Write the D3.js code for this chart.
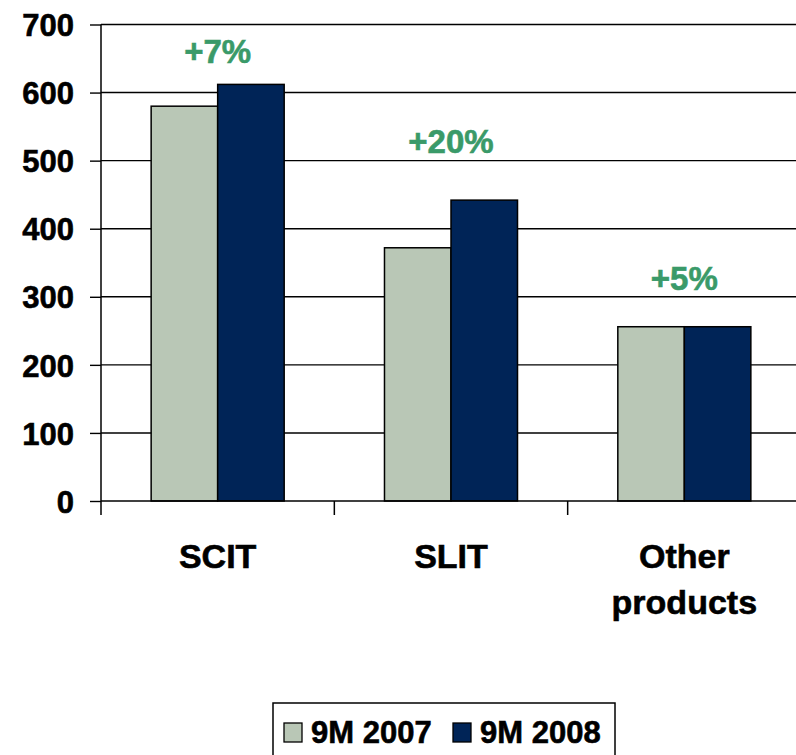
<!DOCTYPE html>
<html>
<head>
<meta charset="utf-8">
<script src="https://cdn.jsdelivr.net/npm/d3@7"></script>
<style>
  html, body { margin: 0; padding: 0; background: #fff; }
  svg { display: block; }
  text { font-family: "Liberation Sans", Arial, Helvetica, sans-serif; font-weight: bold; }
</style>
</head>
<body>
<svg id="chart" width="796" height="755"></svg>
<script>
// ---- data ----
const categories = ["SCIT", "SLIT", "Other products"];
const seriesNames = ["9M 2007", "9M 2008"];
const values2007 = [580, 372, 256];
const values2008 = [612, 442, 256];
const growthLabels = ["+7%", "+20%", "+5%"];
const growthLabelAt = [643, 511, 310]; // label baseline, in value units
const yTicks = [0, 100, 200, 300, 400, 500, 600, 700];
const colors = ["#B9C7B6", "#002457"];

const svg = d3.select("#chart");

const x0 = d3.scaleBand().domain(categories).range([101, 801]).paddingInner(0).paddingOuter(0);
const x1 = d3.scaleBand().domain(seriesNames).range([0, x0.bandwidth()]).paddingInner(0).paddingOuter(0.754);
const y = d3.scaleLinear().domain([0, 700]).range([501, 24.5]);

// gridlines
svg.append("g").selectAll("line").data(yTicks.filter(d => d > 0)).join("line")
  .attr("x1", 101).attr("x2", 796)
  .attr("y1", d => y(d)).attr("y2", d => y(d))
  .attr("stroke", "#000").attr("stroke-width", 1.4);

// y axis
const yAxis = d3.axisLeft(y).tickValues(yTicks).tickSize(11).tickPadding(16).tickFormat(d3.format("d"));
const gy = svg.append("g").attr("transform", "translate(101,0)").call(yAxis);
gy.select(".domain").attr("stroke", "#000").attr("stroke-width", 1.5).attr("d", `M0,${y(700)}V${y(0)}`);
gy.selectAll(".tick line").attr("stroke", "#000").attr("stroke-width", 1.4);
gy.selectAll(".tick text").attr("fill", "#000").attr("stroke", "#000").attr("stroke-width", 0.6)
  .style("font-size", "31px").attr("dy", "0.36em")
  .style("font-family", "'Liberation Sans', Arial, sans-serif").style("font-weight", "bold");

// bars
const rows = categories.map((c, i) => ({ cat: c, vals: [values2007[i], values2008[i]] }));
const groups = svg.append("g").selectAll("g").data(rows).join("g")
  .attr("transform", d => `translate(${x0(d.cat)},0)`);
groups.selectAll("rect").data(d => d.vals.map((v, j) => ({ s: seriesNames[j], v, j }))).join("rect")
  .attr("x", d => x1(d.s)).attr("width", x1.bandwidth())
  .attr("y", d => y(d.v)).attr("height", d => y(0) - y(d.v))
  .attr("fill", d => colors[d.j]).attr("stroke", "#000").attr("stroke-width", 1.5);

// x axis line + ticks
svg.append("line").attr("x1", 101).attr("x2", 796).attr("y1", y(0)).attr("y2", y(0))
  .attr("stroke", "#000").attr("stroke-width", 1.5);
const boundaries = categories.map(c => x0(c));
svg.append("g").selectAll("line").data(boundaries).join("line")
  .attr("x1", d => d).attr("x2", d => d).attr("y1", y(0)).attr("y2", y(0) + 14)
  .attr("stroke", "#000").attr("stroke-width", 1.5);

// category labels
svg.append("g").selectAll("text").data(categories).join("text")
  .attr("x", d => x0(d) + x0.bandwidth() / 2)
  .attr("y", 568)
  .attr("text-anchor", "middle")
  .style("font-size", "34px").attr("fill", "#000").attr("stroke", "#000").attr("stroke-width", 0.6)
  .each(function(d) {
    const words = d.split(" ");
    const t = d3.select(this);
    words.forEach((w, i) => {
      t.append("tspan").attr("x", x0(d) + x0.bandwidth() / 2).attr("dy", i === 0 ? 0 : 46).text(w);
    });
  });

// growth labels
svg.append("g").selectAll("text").data(categories).join("text")
  .attr("x", d => x0(d) + x0.bandwidth() / 2)
  .attr("y", (d, i) => y(growthLabelAt[i]))
  .attr("text-anchor", "middle")
  .style("font-size", "33px").attr("fill", "#3A9A69").attr("stroke", "#3A9A69").attr("stroke-width", 0.6)
  .text((d, i) => growthLabels[i]);

// legend
const lg = svg.append("g");
lg.append("rect").attr("x", 273).attr("y", 703).attr("width", 342).attr("height", 70)
  .attr("fill", "#fff").attr("stroke", "#000").attr("stroke-width", 1.5);
const legendX = [284, 453];
seriesNames.forEach((s, i) => {
  lg.append("rect").attr("x", legendX[i]).attr("y", 723).attr("width", 18).attr("height", 19)
    .attr("fill", colors[i]).attr("stroke", "#000").attr("stroke-width", 1.3);
  lg.append("text").attr("x", legendX[i] + 27).attr("y", 743)
    .style("font-size", "31px").attr("fill", "#000").attr("stroke", "#000").attr("stroke-width", 0.6).text(s);
});
</script>
</body>
</html>
